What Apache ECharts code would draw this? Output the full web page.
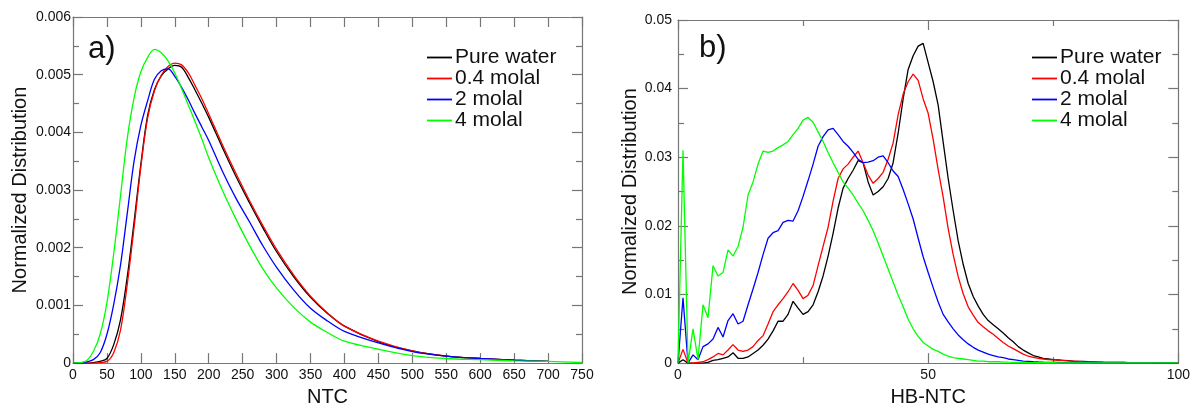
<!DOCTYPE html>
<html><head><meta charset="utf-8">
<script src="https://cdn.jsdelivr.net/npm/echarts@6/dist/echarts.min.js"></script>
<style>html,body{margin:0;padding:0;background:#fff}#c{width:1193px;height:412px}</style>
</head><body><div id="c"></div>
<script>
// ---------- data ----------
const seriesNames = ['Pure water', '0.4 molal', '2 molal', '4 molal'];
const seriesColors = ['#000000', '#ff0000', '#0000ff', '#00ff00'];

// Panel a) : NTC distribution
const ntc = [0,10,20,30,40,50,60,70,80,90,100,110,120,130,140,150,160,170,180,190,200,
  220,240,260,280,300,325,350,375,400,450,500,550,600,650,700,750];
const ntcPure = [0,0,0,0.00001,0.00003,0.00008,0.00032,0.00075,0.0015,0.00245,0.00345,0.0043,0.00474,0.00498,0.0051,0.00516,0.00513,0.00495,0.00473,0.0045,0.00426,
  0.00374,0.00324,0.00278,0.00234,0.00193,0.0015,0.00114,0.00086,0.00064,0.00037,0.00021,0.00012,0.00008,0.00005,0.00003,null];
const ntc04 = [0,0,0,0,0.00001,0.00003,0.00018,0.00057,0.00137,0.00235,0.0034,0.00425,0.00472,0.00499,0.00514,0.0052,0.00517,0.00503,0.00481,0.00458,0.00432,
  0.00379,0.00329,0.00282,0.00238,0.00197,0.00153,0.00116,0.00087,0.00064,0.00038,0.00021,0.00012,0.00008,0.00005,0.00003,null];
const ntc2 = [0,0,0.00002,0.00006,0.00018,0.0005,0.00102,0.0017,0.0026,0.0035,0.00412,0.00455,0.00492,0.00507,0.0051,0.00497,0.00478,0.00456,0.00432,0.00409,0.00386,
  0.00333,0.00286,0.00245,0.00203,0.00166,0.00127,0.00095,0.00073,0.00055,0.00035,0.0002,0.00012,0.00008,0.00005,0.00003,null];
const ntc4 = [0,0.00001,0.00004,0.0002,0.0005,0.00105,0.0019,0.0029,0.0039,0.0046,0.00505,0.0053,0.00544,0.00538,0.00524,0.00503,0.00476,0.00447,0.00418,0.00388,0.00356,
  0.003,0.0025,0.00204,0.00163,0.0013,0.00097,0.00071,0.00053,0.00038,0.00024,0.00013,0.00008,0.00006,0.00004,0.00003,0.00001];

// Panel b) : HB-NTC distribution (bins 0..100)
const hbNtc = Array.from({length: 101}, (_, i) => i);
const hbPure = [0,0.0005,0,0,0,0,0.0001,0.0004,0.0005,0.0007,
  0.0009,0.0015,0.0007,0.0007,0.0009,0.0014,0.0019,0.0026,0.0035,0.0047,
  0.0061,0.0061,0.0071,0.009,0.008,0.0071,0.0075,0.0085,0.0104,0.0127,
  0.0156,0.0189,0.0226,0.0255,0.0269,0.0281,0.0295,0.0292,0.0264,0.0245,
  0.025,0.0257,0.0269,0.0292,0.0335,0.0385,0.0428,0.0448,0.0462,0.0466,
  0.0438,0.041,0.0376,0.0322,0.0269,0.0222,0.0178,0.0144,0.0116,0.0097,
  0.0083,0.0071,0.0062,0.0056,0.005,0.0044,0.0037,0.0031,0.0024,0.0019,
  0.0015,0.0011,0.0009,0.0007,0.0006,0.0005,0.00045,0.0004,0.00035,0.0003,
  0.00026,0.00023,0.0002,0.00018,0.00015,0.00013,0.00012,0.0001,0.0001,0.00009,
  0.00008,0.00007,0.00007,0.00006,0.00006,0.00005,0.00005,0.00004,0.00004,0.00003,
  0.00003];
const hb04 = [0,0.002,0,0,0.0001,0.0002,0.0005,0.0009,0.0014,0.0012,
  0.0019,0.0027,0.0019,0.0017,0.0019,0.0024,0.0033,0.004,0.0057,0.0075,
  0.0085,0.0094,0.0104,0.0116,0.0106,0.0094,0.0099,0.0113,0.0142,0.017,
  0.0198,0.0236,0.0269,0.0283,0.029,0.03,0.0309,0.0292,0.0274,0.0262,
  0.0269,0.0278,0.0297,0.0321,0.0362,0.0392,0.041,0.0421,0.0412,0.0385,
  0.0364,0.0326,0.0282,0.0242,0.0196,0.0158,0.0126,0.0101,0.0082,0.007,
  0.0059,0.0053,0.0047,0.0042,0.0036,0.003,0.0025,0.0021,0.0017,0.0013,
  0.001,0.00085,0.0007,0.0006,0.00052,0.00047,0.00042,0.00037,0.00032,0.00028,
  0.00024,0.0002,0.00018,0.00016,0.00014,0.00012,0.00011,0.0001,0.00009,0.00009,
  0.00008,0.00008,0.00007,0.00007,0.00006,0.00006,0.00005,0.00005,0.00004,0.00004,
  0.00003];
const hb2 = [0,0.0095,0,0.0012,0.0005,0.0024,0.0028,0.0035,0.0052,0.0038,
  0.0062,0.0072,0.0057,0.0061,0.0085,0.0108,0.0132,0.0158,0.0182,0.019,
  0.0193,0.0205,0.0208,0.0207,0.0222,0.0243,0.0266,0.029,0.0316,0.033,
  0.034,0.0342,0.0333,0.0323,0.0316,0.0307,0.0297,0.0292,0.0293,0.0295,
  0.03,0.0302,0.0292,0.028,0.0272,0.0253,0.0232,0.021,0.0182,0.0155,
  0.0132,0.011,0.0089,0.0071,0.006,0.005,0.0041,0.0034,0.0028,0.0023,
  0.0019,0.0016,0.0013,0.0011,0.0009,0.0008,0.0006,0.0005,0.0004,0.0003,
  0.00025,0.0002,0.00016,0.00013,0.00011,0.0001,0.00009,0.00008,0.00008,0.00007,
  0.00007,0.00006,0.00006,0.00005,0.00005,0.00005,0.00004,0.00004,0.00004,0.00004,
  0.00003,0.00003,0.00003,0.00003,0.00003,0.00002,0.00002,0.00002,0.00002,0.00002,
  0.00002];
const hb4 = [0,0.031,0,0.005,0.0005,0.0085,0.0066,0.0142,0.0127,0.0132,
  0.0165,0.0156,0.017,0.0198,0.0245,0.0264,0.029,0.0309,0.0307,0.0309,
  0.0314,0.0318,0.0323,0.0333,0.0342,0.0354,0.0358,0.0351,0.0337,0.0323,
  0.0307,0.0292,0.0278,0.0264,0.0255,0.0245,0.0233,0.0222,0.0208,0.0193,
  0.0175,0.0156,0.0137,0.0118,0.0099,0.0082,0.0064,0.005,0.0039,0.003,
  0.0025,0.002,0.0017,0.0013,0.001,0.0008,0.0007,0.0006,0.0005,0.0004,
  0.0003,0.0003,0.0002,0.0002,0.0002,0.00015,0.00013,0.00012,0.0001,0.00009,
  0.00008,0.00007,0.00006,0.00006,0.00005,0.00005,0.00004,0.00004,0.00004,0.00003,
  0.00003,0.00003,0.00003,0.00003,0.00002,0.00002,0.00002,0.00002,0.00002,0.00002,
  0.00002,0.00002,0.00002,0.00002,0.00002,0.00002,0.00002,0.00002,0.00002,0.00002,
  0.00002];

// ---------- chart ----------
const FONT = 'Liberation Sans, Arial, Helvetica, sans-serif';
const AX = '#767676';
const chart = echarts.init(document.getElementById('c'), null, {renderer: 'canvas'});

function xAx(grid, max, interval, minor, top, name) {
  return {
    type: 'value', gridIndex: grid, position: top ? 'top' : 'bottom',
    min: 0, max: max, interval: interval,
    axisLine: {show: true, onZero: false, lineStyle: {color: AX, width: 1.2}},
    axisTick: {show: true, inside: true, length: 10, lineStyle: {color: AX, width: 1.2}},
    minorTick: {show: minor > 0, splitNumber: minor || 5, length: 6, lineStyle: {color: AX, width: 1.2}},
    axisLabel: {show: !top, fontSize: 14, color: '#111', margin: 5, fontFamily: FONT},
    splitLine: {show: false}, minorSplitLine: {show: false},
    name: top ? '' : name, nameLocation: 'middle', nameGap: 19,
    nameTextStyle: {fontSize: 20, color: '#111', fontFamily: FONT}
  };
}
function yAx(grid, max, interval, right, name, digits, margin, gap) {
  return {
    type: 'value', gridIndex: grid, position: right ? 'right' : 'left',
    min: 0, max: max, interval: interval,
    axisLine: {show: true, onZero: false, lineStyle: {color: AX, width: 1.2}},
    axisTick: {show: true, inside: true, length: 10, lineStyle: {color: AX, width: 1.2}},
    minorTick: {show: true, splitNumber: 2, length: 6, lineStyle: {color: AX, width: 1.2}},
    axisLabel: {show: !right, fontSize: 14, color: '#111', margin: margin, fontFamily: FONT,
      formatter: v => (Math.abs(v) < 1e-12 ? '0' : v.toFixed(digits))},
    splitLine: {show: false}, minorSplitLine: {show: false},
    name: right ? '' : name, nameLocation: 'middle', nameGap: gap,
    nameTextStyle: {fontSize: 20, color: '#111', fontFamily: FONT}
  };
}

const leftSets = [ntcPure, ntc04, ntc2, ntc4];
const rightSets = [hbPure, hb04, hb2, hb4];
const series = [];
leftSets.forEach((arr, k) => {
  series.push({
    name: seriesNames[k], type: 'line', xAxisIndex: 0, yAxisIndex: 0,
    data: ntc.map((x, i) => [x, arr[i]]), smooth: 0.35, symbol: 'none',
    connectNulls: false, lineStyle: {color: seriesColors[k], width: 1.3},
    itemStyle: {color: seriesColors[k]}, animation: false
  });
});
rightSets.forEach((arr, k) => {
  series.push({
    name: seriesNames[k], type: 'line', xAxisIndex: 2, yAxisIndex: 2,
    data: hbNtc.map((x, i) => [x, arr[i]]), symbol: 'none',
    lineStyle: {color: seriesColors[k], width: 1.3},
    itemStyle: {color: seriesColors[k]}, animation: false
  });
});

const legendBase = {
  data: seriesNames.map((n, k) => ({name: n, icon: 'rect', itemStyle: {color: seriesColors[k]}})),
  orient: 'vertical', itemWidth: 25, itemHeight: 1.8, itemGap: 0,
  padding: 0, selectedMode: false,
  textStyle: {fontSize: 21, lineHeight: 20, color: '#111', fontFamily: FONT, padding: [0, 0, 0, -2]}
};

chart.setOption({
  backgroundColor: '#fff',
  animation: false,
  grid: [
    {left: 73, top: 17, width: 509, height: 357.5, containLabel: false},
    {left: 678, top: 20, width: 503, height: 353.5, containLabel: false}
  ],
  xAxis: [
    xAx(0, 750, 50, 0, false, 'NTC'),
    xAx(0, 750, 50, 0, true, ''),
    xAx(1, 100, 50, 2, false, 'HB-NTC'),
    xAx(1, 100, 50, 2, true, '')
  ],
  yAxis: [
    yAx(0, 0.006, 0.001, false, 'Normalized Distribution', 3, 2, 43),
    yAx(0, 0.006, 0.001, true, '', 3, 2, 0),
    yAx(1, 0.05, 0.01, false, 'Normalized Distribution', 2, 6, 37),
    yAx(1, 0.05, 0.01, true, '', 2, 6, 0)
  ],
  legend: [
    Object.assign({}, legendBase, {left: 427, top: 47}),
    Object.assign({}, legendBase, {left: 1032, top: 47})
  ],
  graphic: [
    {type: 'text', left: 88, top: 34, style: {text: 'a)', fontSize: 31, fill: '#111', fontFamily: FONT}},
    {type: 'text', left: 699, top: 33, style: {text: 'b)', fontSize: 31, fill: '#111', fontFamily: FONT}}
  ],
  series: series
});
</script></body></html>
